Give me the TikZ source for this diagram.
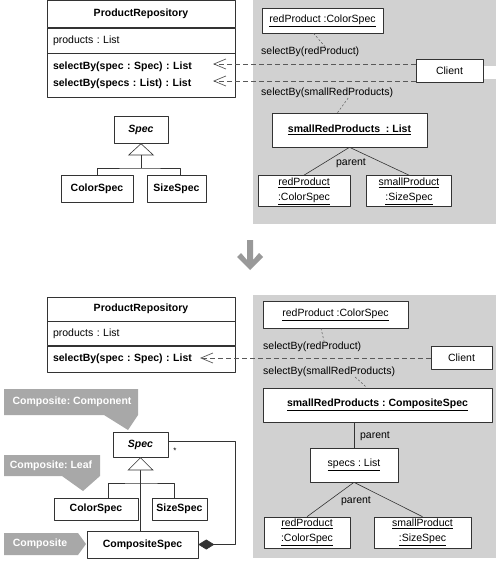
\documentclass[tikz,border=0pt]{standalone}
\usepackage{fontspec}
\setmainfont{Liberation Sans}
\usetikzlibrary{arrows.meta, positioning, calc}
\definecolor{panelgray}{gray}{0.82}
\definecolor{notegray}{gray}{0.66}
\definecolor{linegray}{gray}{0.35}
\frenchspacing

\begin{document}
\begin{tikzpicture}[x=1pt, y=-1pt, line join=round,
    font=\fontsize{10.5}{13}\selectfont,
    box/.style={draw=black!80, fill=white, line width=0.6pt, inner sep=2pt},
    cls/.style={box, font=\fontsize{10.5}{13}\selectfont\bfseries},
    part/.style={box, text width=176pt, inner xsep=6pt, align=left},
    leaf/.style={box, align=center, font=\fontsize{10.5}{15}\selectfont},
    msg/.style={linegray, line width=0.7pt, dash pattern=on 5pt off 3pt},
    link/.style={linegray, line width=0.5pt, dash pattern=on 2pt off 2pt},
    tree/.style={black!80, line width=0.6pt},
    lbl/.style={anchor=west, inner sep=0pt},
    note/.style={fill=notegray, draw=none},
    notetext/.style={text=white, font=\fontsize{10.5}{13}\selectfont\bfseries}]
  \useasboundingbox (0,0) rectangle (500,561);

  % before
  \fill[panelgray] (253,0) rectangle (496,224);
  \fill[white] (483,66) rectangle (500,79);

  \node[cls, minimum width=188pt, minimum height=27pt] (repoA) at (141,14) {ProductRepository};
  \node[part, below=0pt of repoA, minimum height=25pt] (repoAattr) {products : List};
  \node[part, below=0pt of repoAattr, minimum height=44pt,
        font=\fontsize{10.5}{17}\selectfont\bfseries] (repoAops)
        {selectBy(spec : Spec) : List\\selectBy(specs : List) : List};
  \coordinate (selA1) at (213,64);
  \coordinate (selA2) at (213,81);

  \node[cls, minimum width=54pt, minimum height=27pt] (specA) at (141,129.5) {\textit{Spec}};
  \node[cls, minimum width=72pt, minimum height=27pt] (colorA) at (97,188.5) {ColorSpec};
  \node[cls, minimum width=59pt, minimum height=27pt] (sizeA) at (176.5,188.5) {SizeSpec};
  \coordinate (forkA) at (141,168);
  \draw[tree] (colorA.north) |- (forkA) -| ([xshift=4pt]sizeA.north);
  \draw[tree, -{Triangle[open, length=12pt, width=26pt, fill=white]}] (forkA) -- (specA.south);

  \node[box, minimum width=121pt, minimum height=25pt] (redA) at (322.5,20.5) {\underline{redProduct :ColorSpec}};
  \node[lbl] (callA1) at (261,52) {selectBy(redProduct)};
  \node[box, minimum width=67pt, minimum height=23pt] (clientA) at (449.5,71) {Client};
  \node[lbl] (callA2) at (261,93) {selectBy(smallRedProducts)};
  \node[cls, minimum width=155pt, minimum height=34pt] (listA) at (349.5,130) {\underline{smallRedProducts\ \ : List}};
  \node[leaf, minimum width=92pt, minimum height=31pt] (redAleaf) at (304,191) {\underline{redProduct}\\\underline{:ColorSpec}};
  \node[leaf, minimum width=85pt, minimum height=31pt] (smallAleaf) at (409,191) {\underline{smallProduct}\\\underline{:SizeSpec}};
  \draw[tree] (listA.south) -- (redAleaf.north);
  \draw[tree] (listA.south) -- (smallAleaf.north);
  \node at (351,163) {parent};

  \draw[msg, -{Straight Barb[length=12pt, width=10pt]}] (clientA.west |- selA1) -- (selA1);
  \draw[msg, -{Straight Barb[length=12pt, width=10pt]}] (clientA.west |- selA2) -- (selA2);
  \draw[link] ([xshift=-9pt]redA.south) -- ([xshift=15pt]callA1.north);
  \draw[link] ([xshift=21pt]callA2.south) -- ([xshift=-12pt]listA.north);

  % refactoring arrow
  \fill[black!40] (247,240) -- (253,240) -- (253,260) -- (259,253) -- (263,257) -- (250,270)
    -- (237,257) -- (241,253) -- (247,260) -- cycle;

  % after
  \fill[panelgray] (253,295) rectangle (496,558);

  \node[cls, minimum width=188pt, minimum height=24pt] (repoB) at (141,309) {ProductRepository};
  \node[part, below=0pt of repoB, minimum height=24pt] (repoBattr) {products : List};
  \node[part, below=0pt of repoBattr, minimum height=26pt,
        font=\fontsize{10.5}{13}\selectfont\bfseries] (repoBops) {selectBy(spec : Spec) : List};
  \coordinate (selB) at (200,358);

  \node[box, minimum width=145pt, minimum height=27pt] (redB) at (335.5,314.5) {\underline{redProduct :ColorSpec}};
  \node[lbl] (callB1) at (263,347) {selectBy(redProduct)};
  \node[box, minimum width=61pt, minimum height=23pt] (clientB) at (461.5,357.5) {Client};
  \node[lbl] (callB2) at (263,372) {selectBy(smallRedProducts)};
  \node[cls, minimum width=229pt, minimum height=34pt] (compB) at (377.5,405) {\underline{smallRedProducts : CompositeSpec}};
  \node[box, minimum width=88pt, minimum height=34pt] (specsB) at (354,465) {\underline{specs : List}};
  \node[leaf, minimum width=86pt, minimum height=31pt] (redBleaf) at (307,532.5) {\underline{redProduct}\\\underline{:ColorSpec}};
  \node[leaf, minimum width=97pt, minimum height=31pt] (smallBleaf) at (422.5,532.5) {\underline{smallProduct}\\\underline{:SizeSpec}};
  \draw[tree] (compB.south -| specsB.north) -- (specsB.north);
  \node at (375,436) {parent};
  \draw[tree] (specsB.south) -- (redBleaf.north);
  \draw[tree] (specsB.south) -- (smallBleaf.north);
  \node at (356,501) {parent};

  \draw[msg, -{Straight Barb[length=12pt, width=10pt]}] (clientB.west |- selB) -- (selB);
  \draw[link] ([xshift=-14.5pt]redB.south) -- ([xshift=12pt]callB1.north);
  \draw[link] ([xshift=26pt]callB2.south) -- ([xshift=-10.5pt]compB.north);

  \node[cls, minimum width=55pt, minimum height=25pt] (specB) at (140.5,444.5) {\textit{Spec}};
  \node[cls, minimum width=84pt, minimum height=22pt] (colorB) at (96,509) {ColorSpec};
  \node[cls, minimum width=55pt, minimum height=22pt] (sizeB) at (179.5,509) {SizeSpec};
  \node[cls, minimum width=111pt, minimum height=27pt] (compositeB) at (142.5,544.5) {CompositeSpec};
  \coordinate (forkB) at (141,483);
  \draw[tree, -{Triangle[open, length=13pt, width=26pt, fill=white]}] (compositeB.north -| specB.south) -- (specB.south);
  \draw[tree] ([xshift=12pt]colorB.north) |- (forkB) -| ([xshift=-5.5pt]sizeB.north);
  \draw[tree, {Diamond[length=16pt, width=10pt]}-] (compositeB.east) -- ++(37,0) |- ([yshift=3.5pt]specB.east);
  \node[font=\fontsize{8}{9}\selectfont] at (175,451) {*};

  % pattern roles
  \fill[note] (4,389) -- (138,389) -- (138,415) -- (128,430) -- (104,415) -- (4,415) -- cycle;
  \node[notetext] (roleComponent) at (72,402) {Composite: Component};
  \fill[note] (4,455) -- (100,455) -- (100,476) -- (83,491) -- (62,476) -- (4,476) -- cycle;
  \node[notetext] (roleLeaf) at (51,465.5) {Composite: Leaf};
  \fill[note] (4,533) -- (78,533) -- (86,544) -- (78,555) -- (4,555) -- cycle;
  \node[notetext] (roleComposite) at (40,544) {Composite};
\end{tikzpicture}
\end{document}
